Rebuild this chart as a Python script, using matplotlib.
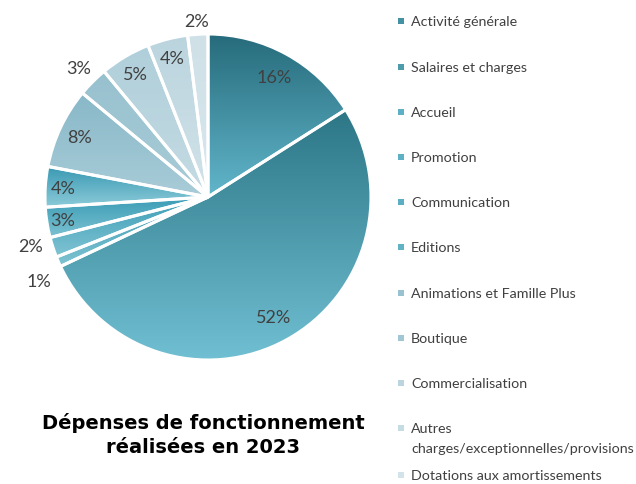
import matplotlib
matplotlib.use("Agg")
import matplotlib.pyplot as plt
import numpy as np
from matplotlib.patches import Wedge, Rectangle
from matplotlib.colors import to_rgb

categories = ["Activité générale", "Salaires et charges", "Accueil", "Promotion",
              "Communication", "Editions", "Animations et Famille Plus", "Boutique",
              "Commercialisation", "Autres\ncharges/exceptionnelles/provisions",
              "Dotations aux amortissements"]
values = [16, 52, 1, 2, 3, 4, 8, 3, 5, 4, 2]
labels = ["16%", "52%", "1%", "2%", "3%", "4%", "8%", "3%", "5%", "4%", "2%"]

top_colors = ["#266b7b", "#2c7686", "#3a9bb4", "#3c9db6", "#3a9cb5", "#3898b2",
              "#88b8c8", "#97c0ce", "#afcfda", "#bad4de", "#cfe0e7"]
bot_colors = ["#62b6cb", "#70bfd2", "#7fc3d2", "#80c4d3", "#7dc2d2", "#8ccbd9",
              "#a9ccd8", "#a9cdd8", "#c5dbe3", "#d2e3e9", "#d8e7ed"]
label_r = [0.84, 0.84, 1.16, 1.13, 0.90, 0.89, 0.87, 1.12, 0.88, 0.88, 1.08]
label_dang = [0, 0, 3, -2.5, 0, 0, 0, 0, 0, 0, 0]

W, H = 636, 485
fig = plt.figure(figsize=(W / 100, H / 100), dpi=100)
cx, cy, R = 208, 198, 163
ax = fig.add_axes([(cx - R) / W, (H - cy - R) / H, 2 * R / W, 2 * R / H])
ax.set_xlim(-1, 1)
ax.set_ylim(-1, 1)
ax.set_aspect("equal")
ax.axis("off")

wedges, _ = ax.pie(values, startangle=90, counterclock=False, radius=1,
                   colors=bot_colors, wedgeprops=dict(linewidth=0))

for i, w in enumerate(wedges):
    ext = w.get_path().get_extents()
    t = np.array(to_rgb(top_colors[i]))
    b = np.array(to_rgb(bot_colors[i]))
    n = 256
    f = np.linspace(0, 1, n)[:, None]
    grad = (t[None, :] * (1 - f) + b[None, :] * f)[:, None, :]
    im = ax.imshow(grad, extent=[ext.x0, ext.x1, ext.y0, ext.y1], origin="upper",
                   aspect="auto", zorder=2, interpolation="bilinear")
    im.set_clip_path(w)
    ax.add_patch(Wedge(w.center, w.r, w.theta1, w.theta2, facecolor="none",
                       edgecolor="white", linewidth=2.2, zorder=3))
    mid = np.deg2rad((w.theta1 + w.theta2) / 2 + label_dang[i])
    ax.text(label_r[i] * np.cos(mid), label_r[i] * np.sin(mid), labels[i],
            ha="center", va="center", fontsize=13, color="#404040",
            family="Lato", zorder=4)
ax.set_xlim(-1, 1)
ax.set_ylim(-1, 1)

# legend
ys = [22, 68, 113, 158, 203, 248, 294, 339, 384, 429, 476]
for i, cat in enumerate(categories):
    y = ys[i]
    c = (np.array(to_rgb(top_colors[i])) + np.array(to_rgb(bot_colors[i]))) / 2
    fig.patches.append(Rectangle(((398) / W, (H - y - 3) / H), 6 / W, 6 / H,
                                 transform=fig.transFigure, facecolor=c,
                                 edgecolor="none"))
    if "\n" in cat:
        fig.text(411 / W, (H - y - 10) / H, cat, ha="left", va="center",
                 fontsize=10.3, color="#404040", family="Lato", linespacing=1.75)
    else:
        fig.text(411 / W, (H - y) / H, cat, ha="left", va="center",
                 fontsize=10.3, color="#404040", family="Lato")

fig.text(203 / W, (H - 435) / H, "Dépenses de fonctionnement\nréalisées en 2023",
         ha="center", va="center", fontsize=14, fontweight="bold", color="black",
         family="DejaVu Sans", linespacing=1.35)

fig.savefig("out.png", dpi=100)
